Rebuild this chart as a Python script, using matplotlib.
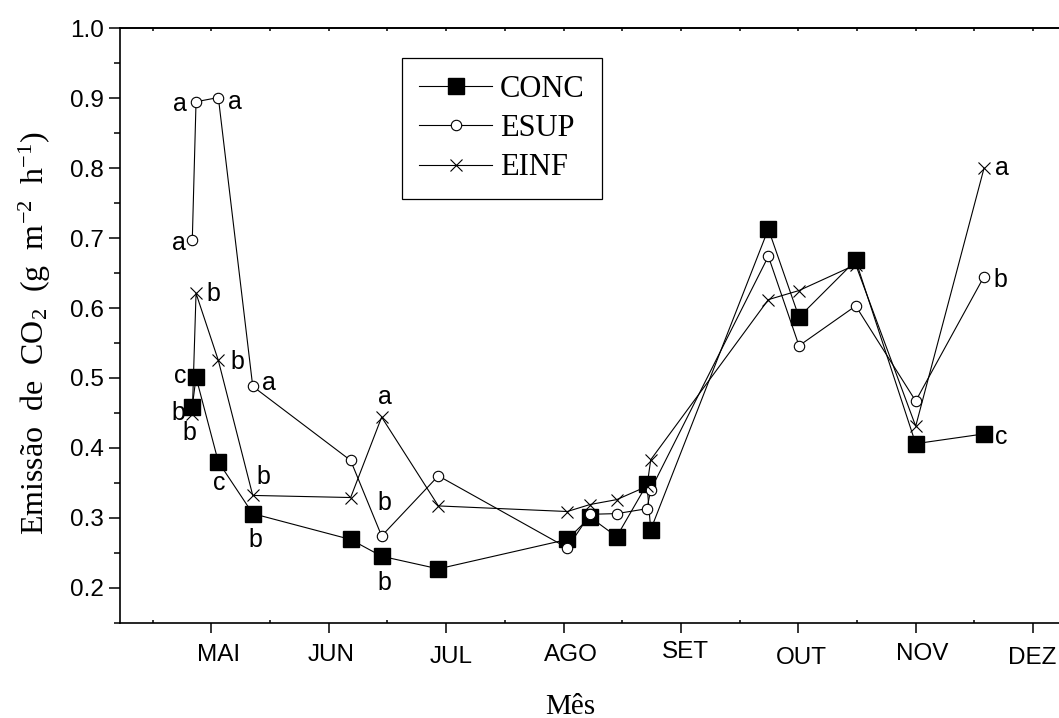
import numpy as np
import matplotlib
matplotlib.use("Agg")
from matplotlib import pyplot as plt
from matplotlib.ticker import MultipleLocator, FixedLocator, NullFormatter, FormatStrFormatter
from matplotlib.transforms import ScaledTranslation

# === DATA ===
# sampling dates in month units (5 = 1 May, 6 = 1 June, ...)
mes_pos = [4.838, 4.870, 5.060, 5.353, 6.187, 6.451, 6.934, 8.032, 8.226,
           8.453, 8.711, 8.743, 9.745, 10.006, 10.489, 11.000, 11.582]

conc = [0.459, 0.501, 0.380, 0.306, 0.269, 0.245, 0.227, 0.269, 0.301,
        0.273, 0.348, 0.283, 0.713, 0.587, 0.668, 0.406, 0.420]
esup = [0.697, 0.895, 0.901, 0.488, 0.382, 0.274, 0.360, 0.257, 0.305,
        0.306, 0.313, 0.340, 0.674, 0.546, 0.603, 0.467, 0.645]
einf = [0.448, 0.621, 0.525, 0.332, 0.329, 0.444, 0.317, 0.309, 0.319,
        0.326, 0.345, 0.383, 0.612, 0.625, 0.662, 0.431, 0.800]

# significance letters (index of sampling date -> letter)
letras_conc = {0: 'b', 1: 'c', 2: 'c', 3: 'b', 5: 'b', 16: 'c'}
letras_esup = {0: 'a', 1: 'a', 2: 'a', 3: 'a', 5: 'b', 16: 'b'}
letras_einf = {0: 'b', 1: 'b', 2: 'b', 3: 'b', 5: 'a', 16: 'a'}

meses = ['MAI', 'JUN', 'JUL', 'AGO', 'SET', 'OUT', 'NOV', 'DEZ']
meses_pos = [5, 6, 7, 8, 9, 10, 11, 12]

# where each letter sits relative to its point (pixels, x right / y up)
off_conc = {0: (-14, -4), 1: (-16, 1), 2: (1, -21), 3: (3, -24), 5: (3, -25), 16: (17, -3)}
off_esup = {0: (-13, -3), 1: (-16, -2), 2: (17, -4), 3: (16, 3), 5: (3, 35), 16: (16, -1)}
off_einf = {0: (-3, -17), 1: (17, 1), 2: (19, 0), 3: (11, 20), 5: (3, 20), 16: (18, 0)}

# small nudges of the month labels (pixels, x right / y down)
nudge_meses = [(7, 0), (2, 0), (5, 2), (7, 0), (5, -3), (3, 3), (6, -1), (-1, 3)]

# === FIGURE ===
plt.rcParams['mathtext.fontset'] = 'custom'
plt.rcParams['mathtext.rm'] = 'Liberation Serif'
plt.rcParams['mathtext.it'] = 'Liberation Serif:italic'

W, H = 1059, 718
fig = plt.figure(figsize=(W / 100, H / 100), dpi=100)

# axes run past the right edge of the figure (right spine is cut off)
px_left, px_right, px_top, px_bottom = 120, 1100, 28.3, 622.7
ax = fig.add_axes([px_left / W, 1 - px_bottom / H,
                   (px_right - px_left) / W, (px_bottom - px_top) / H])

px_per_month = 117.4
x0 = 5 - (211.3 - px_left) / px_per_month
x1 = 5 + (px_right - 211.3) / px_per_month
ax.set_xlim(x0, x1)
ax.set_ylim(0.15, 1.0)

lw = 0.8
l1, = ax.plot(mes_pos, conc, color='black', lw=lw, marker='s', ms=11,
              mfc='black', mec='black', label='CONC', zorder=3)
l2, = ax.plot(mes_pos, esup, color='black', lw=lw, marker='o', ms=7.5,
              mfc='white', mec='black', mew=0.8, label='ESUP', zorder=4)
l3, = ax.plot(mes_pos, einf, color='black', lw=lw, marker='x', ms=9,
              mec='black', mew=0.8, label='EINF', zorder=5)

sans = 'Liberation Sans'
serif = 'Liberation Serif'

for serie, letras, offs in [(conc, letras_conc, off_conc),
                            (esup, letras_esup, off_esup),
                            (einf, letras_einf, off_einf)]:
    for i, letra in letras.items():
        dx, dy = offs[i]
        if letra == 'b':
            dy -= 2
        ax.annotate(letra, (mes_pos[i], serie[i]), xytext=(dx, dy),
                    textcoords='offset pixels', ha='center', va='center',
                    fontsize=18, family=sans, zorder=6)

# --- ticks ---
for s in ax.spines.values():
    s.set_linewidth(1.2)

ax.xaxis.set_major_locator(FixedLocator(meses_pos))
ax.xaxis.set_minor_locator(FixedLocator(np.arange(4.5, 12.6, 1.0)))
ax.set_xticklabels(meses, family=sans, fontsize=17.5)
ax.tick_params(axis='x', which='major', direction='out', length=7.5, width=1.1, pad=8, top=False)
ax.tick_params(axis='x', which='minor', direction='in', length=2.5, width=1.1, top=False)

ax.yaxis.set_major_locator(MultipleLocator(0.1))
ax.yaxis.set_minor_locator(MultipleLocator(0.05))
ax.yaxis.set_major_formatter(FormatStrFormatter('%.1f'))
ax.tick_params(axis='y', which='major', direction='out', length=7.7, width=1.1, pad=4, right=False)
ax.tick_params(axis='y', which='minor', direction='out', length=4.3, width=1.1, right=False)
for lab in ax.get_yticklabels():
    lab.set_family(sans)
    lab.set_fontsize(17.5)

for lab, (dx, dy) in zip(ax.get_xticklabels(), nudge_meses):
    lab.set_transform(lab.get_transform() +
                      ScaledTranslation(dx / 100, -dy / 100, fig.dpi_scale_trans))

# top axis: small inward ticks only
top = ax.secondary_xaxis('top')
top.xaxis.set_major_locator(FixedLocator(meses_pos))
top.xaxis.set_minor_locator(FixedLocator(np.arange(4.5, 12.6, 1.0)))
top.xaxis.set_major_formatter(NullFormatter())
top.tick_params(axis='x', which='both', direction='in', length=2.5, width=1.1)
top.spines['top'].set_linewidth(1.2)

# --- labels ---
ax.set_xlabel('Mês', family=serif, fontsize=21)
ax.xaxis.set_label_coords((570 - px_left) / (px_right - px_left),
                          -(714 - px_bottom) / (px_bottom - px_top))
ax.xaxis.label.set_va('baseline')

ax.set_ylabel(r'Emissão  de  CO$_2$  (g  m$^{-2}$  h$^{-1}$)', family=serif, fontsize=23)
ax.yaxis.set_label_coords(-(px_left - 35) / (px_right - px_left),
                          (px_bottom - 333) / (px_bottom - px_top))
ax.yaxis.label.set_va('center')

# --- legend ---
leg = ax.legend(handles=[l1, l2, l3], loc='upper left',
                bbox_to_anchor=(402.3 / W, 1 - 58.3 / H),
                bbox_transform=fig.transFigure, borderaxespad=0,
                prop={'family': serif, 'size': 22},
                handlelength=2.4, handletextpad=0.25, borderpad=0.55,
                labelspacing=0.33, fancybox=False, framealpha=1,
                edgecolor='black')
leg.get_frame().set_linewidth(0.9)

fig.savefig('out.png', dpi=100)
